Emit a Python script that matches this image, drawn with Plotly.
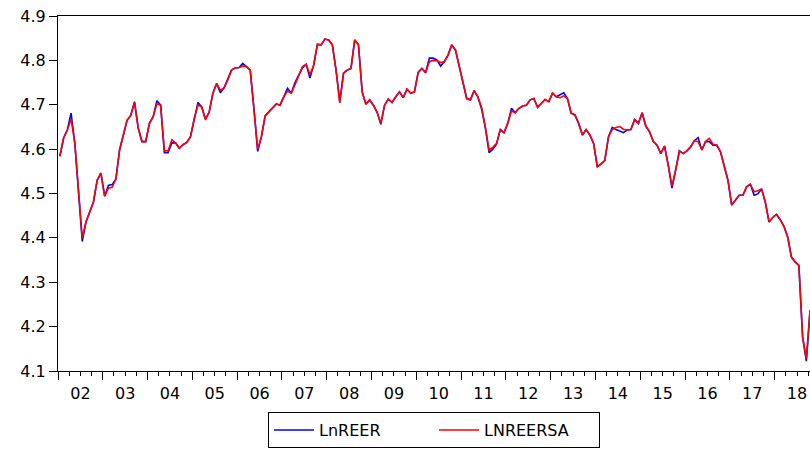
import plotly.graph_objects as go

start_year = 2002
lnreer = [
    4.584, 4.625, 4.643, 4.681, 4.614, 4.508, 4.392, 4.436, 4.459, 4.481, 4.530, 4.546,
    4.494, 4.518, 4.520, 4.532, 4.598, 4.635, 4.665, 4.676, 4.707, 4.647, 4.617, 4.617,
    4.658, 4.673, 4.709, 4.699, 4.592, 4.592, 4.614, 4.614, 4.602, 4.610, 4.615, 4.628,
    4.669, 4.705, 4.695, 4.668, 4.683, 4.726, 4.748, 4.727, 4.738, 4.756, 4.778, 4.783,
    4.784, 4.793, 4.786, 4.778, 4.692, 4.595, 4.628, 4.675, 4.684, 4.692, 4.702, 4.699,
    4.718, 4.737, 4.726, 4.750, 4.767, 4.783, 4.791, 4.760, 4.789, 4.836, 4.835, 4.848,
    4.846, 4.835, 4.778, 4.707, 4.771, 4.778, 4.782, 4.846, 4.835, 4.729, 4.701, 4.711,
    4.699, 4.683, 4.656, 4.699, 4.713, 4.705, 4.718, 4.729, 4.716, 4.735, 4.726, 4.729,
    4.773, 4.782, 4.772, 4.805, 4.805, 4.801, 4.787, 4.797, 4.812, 4.835, 4.823, 4.786,
    4.744, 4.714, 4.711, 4.732, 4.718, 4.690, 4.648, 4.592, 4.600, 4.611, 4.644, 4.637,
    4.658, 4.692, 4.682, 4.692, 4.697, 4.699, 4.711, 4.714, 4.694, 4.704, 4.712, 4.707,
    4.726, 4.718, 4.722, 4.727, 4.714, 4.681, 4.677, 4.658, 4.632, 4.644, 4.632, 4.613,
    4.560, 4.566, 4.574, 4.628, 4.649, 4.644, 4.641, 4.637, 4.643, 4.644, 4.667, 4.658,
    4.682, 4.652, 4.639, 4.617, 4.609, 4.590, 4.607, 4.564, 4.512, 4.553, 4.596, 4.590,
    4.596, 4.605, 4.619, 4.626, 4.598, 4.617, 4.617, 4.609, 4.609, 4.594, 4.560, 4.530,
    4.474, 4.485, 4.496, 4.496, 4.515, 4.521, 4.496, 4.499, 4.510, 4.481, 4.436, 4.446,
    4.453, 4.441, 4.426, 4.402, 4.357, 4.346, 4.338, 4.177, 4.122, 4.237,
]
lnreersa = [
    4.584, 4.625, 4.643, 4.668, 4.614, 4.508, 4.400, 4.436, 4.459, 4.481, 4.530, 4.546,
    4.494, 4.512, 4.514, 4.532, 4.598, 4.635, 4.665, 4.676, 4.705, 4.647, 4.617, 4.617,
    4.658, 4.673, 4.702, 4.699, 4.596, 4.596, 4.621, 4.614, 4.602, 4.610, 4.615, 4.628,
    4.669, 4.700, 4.695, 4.666, 4.683, 4.726, 4.748, 4.733, 4.738, 4.756, 4.778, 4.783,
    4.784, 4.787, 4.786, 4.778, 4.692, 4.600, 4.628, 4.675, 4.684, 4.692, 4.702, 4.699,
    4.718, 4.731, 4.726, 4.745, 4.767, 4.786, 4.791, 4.768, 4.789, 4.836, 4.835, 4.848,
    4.846, 4.835, 4.778, 4.704, 4.771, 4.778, 4.782, 4.846, 4.835, 4.729, 4.701, 4.711,
    4.699, 4.683, 4.658, 4.699, 4.713, 4.705, 4.718, 4.729, 4.716, 4.735, 4.726, 4.729,
    4.773, 4.782, 4.772, 4.797, 4.800, 4.799, 4.795, 4.797, 4.812, 4.835, 4.823, 4.786,
    4.744, 4.714, 4.711, 4.732, 4.718, 4.694, 4.650, 4.598, 4.604, 4.613, 4.644, 4.637,
    4.658, 4.686, 4.682, 4.692, 4.697, 4.699, 4.711, 4.714, 4.694, 4.704, 4.712, 4.707,
    4.726, 4.718, 4.716, 4.720, 4.714, 4.681, 4.677, 4.658, 4.632, 4.644, 4.632, 4.613,
    4.560, 4.566, 4.574, 4.628, 4.644, 4.649, 4.651, 4.645, 4.643, 4.644, 4.667, 4.658,
    4.682, 4.652, 4.639, 4.617, 4.609, 4.590, 4.607, 4.564, 4.517, 4.553, 4.596, 4.590,
    4.596, 4.605, 4.619, 4.617, 4.598, 4.617, 4.624, 4.611, 4.609, 4.594, 4.560, 4.530,
    4.474, 4.485, 4.496, 4.496, 4.515, 4.521, 4.504, 4.506, 4.510, 4.481, 4.436, 4.446,
    4.453, 4.441, 4.426, 4.402, 4.357, 4.346, 4.338, 4.177, 4.128, 4.237,
]
year_labels = ["02", "03", "04", "05", "06", "07", "08", "09", "10",
               "11", "12", "13", "14", "15", "16", "17", "18"]
y_ticks = [4.1, 4.2, 4.3, 4.4, 4.5, 4.6, 4.7, 4.8, 4.9]

x = [start_year + (i + 0.5) / 12 for i in range(len(lnreer))]
years = [start_year + k for k in range(len(year_labels))]
mid_years = [y + 0.5 for y in years]
x_range = [start_year, start_year + 16.79]

FONT = "DejaVu Sans"

fig = go.Figure()
fig.add_trace(go.Scatter(x=x, y=lnreer, mode="lines", name="LnREER",
                         line=dict(color="#0000FF", width=1.6)))
fig.add_trace(go.Scatter(x=x, y=lnreersa, mode="lines", name="LNREERSA",
                         line=dict(color="#FF0000", width=1.6)))
# invisible carrier trace so the label axis (x2) is drawn
fig.add_trace(go.Scatter(x=x, y=lnreer, xaxis="x2", yaxis="y", mode="lines",
                         line=dict(color="rgba(0,0,0,0)", width=0),
                         showlegend=False, hoverinfo="skip"))

fig.update_layout(
    width=810, height=449,
    margin=dict(l=58, r=0, t=16, b=78, autoexpand=False),
    paper_bgcolor="white", plot_bgcolor="white",
    font=dict(family=FONT, size=16, color="black"),
    showlegend=True,
    legend=dict(orientation="h", x=0.5, xanchor="center", y=-0.217, yanchor="bottom",
                bordercolor="black", borderwidth=1, bgcolor="white",
                font=dict(family=FONT, size=16, color="black"),
                itemwidth=40, entrywidth=110, entrywidthmode="pixels",
                tracegroupgap=0),
    xaxis=dict(range=x_range, tickmode="array", tickvals=years,
               ticktext=[""] * len(years),
               ticks="outside", ticklen=8, tickcolor="black", tickwidth=1,
               minor=dict(tickmode="linear", tick0=start_year, dtick=0.25,
                          ticks="outside", ticklen=4, tickcolor="black", showgrid=False),
               showline=True, linecolor="black", linewidth=1, mirror=True,
               showgrid=False, zeroline=False),
    xaxis2=dict(range=x_range, overlaying="x", side="bottom", anchor="y",
                tickmode="array", tickvals=mid_years, ticktext=year_labels,
                ticks="outside", ticklen=8, tickcolor="rgba(0,0,0,0)",
                tickfont=dict(family=FONT, size=16, color="black"),
                showline=False, showgrid=False, zeroline=False),
    yaxis=dict(range=[4.1, 4.9], tickmode="array", tickvals=y_ticks,
               ticktext=[f"{v:.1f}" for v in y_ticks],
               ticks="outside", ticklen=8, tickcolor="black", tickwidth=1,
               tickfont=dict(family=FONT, size=16, color="black"),
               showline=True, linecolor="black", linewidth=1, mirror=False,
               showgrid=False, zeroline=False),
)

fig.write_html("out.html")
